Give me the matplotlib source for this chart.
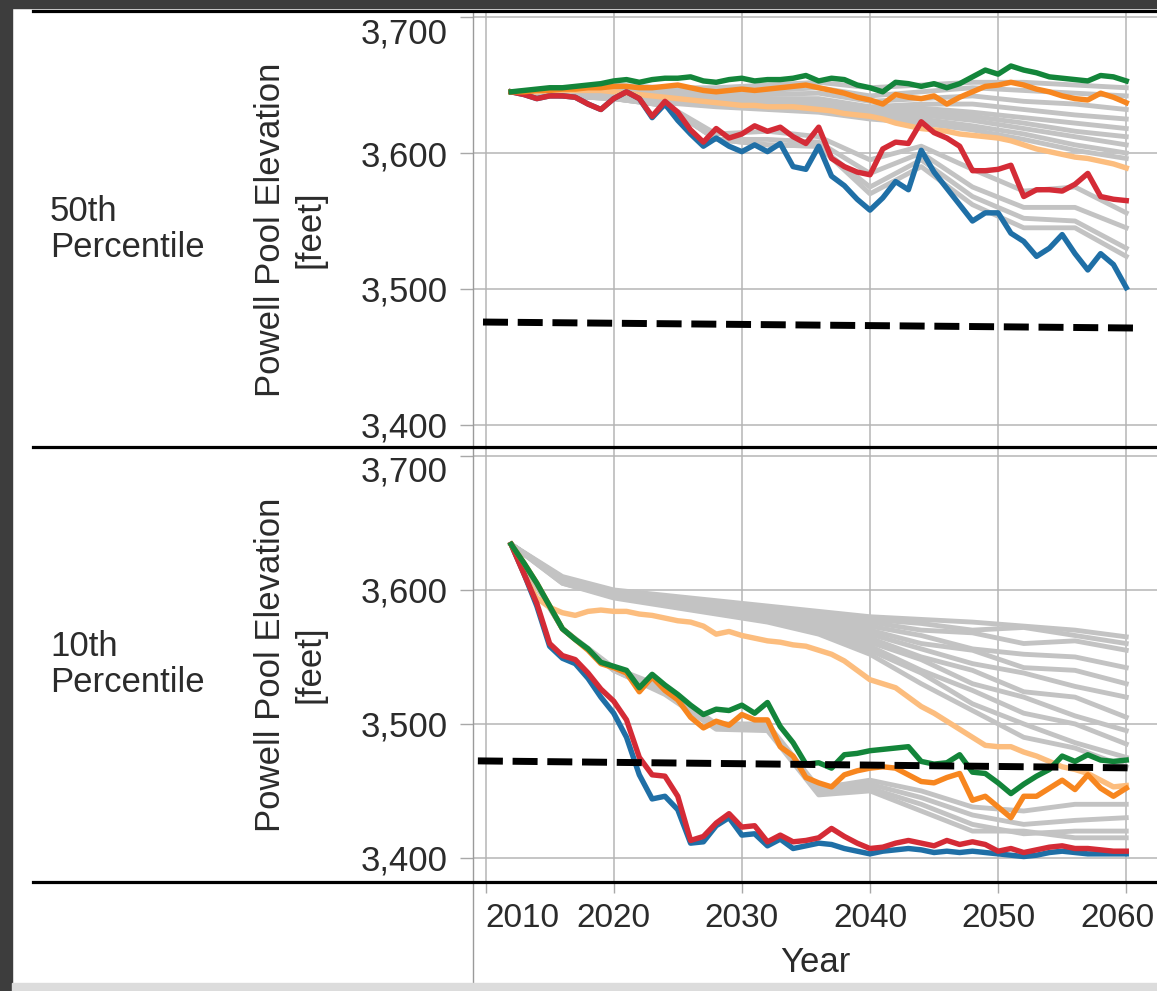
import matplotlib
matplotlib.use("Agg")
import matplotlib.pyplot as plt
from matplotlib import font_manager
from matplotlib.lines import Line2D
from matplotlib.patches import Rectangle
from matplotlib.transforms import ScaledTranslation

# years of the simulated traces
years = list(range(2012, 2061))
# grey traces are read every 4 years
grey_years = list(range(2012, 2061, 4))

# ---------------- 50th percentile panel ----------------
p50_green = [3645, 3646, 3647, 3648, 3648, 3649, 3650, 3651, 3653, 3654, 3652, 3654, 3655,
             3655, 3656, 3653, 3652, 3654, 3655, 3653, 3654, 3654, 3655, 3657, 3653, 3655,
             3654, 3650, 3648, 3645, 3652, 3651, 3649, 3651, 3648, 3651, 3656, 3661, 3658,
             3664, 3661, 3659, 3656, 3655, 3654, 3653, 3657, 3656, 3653]
p50_orange = [3645, 3645, 3646, 3646, 3647, 3647, 3648, 3648, 3649, 3649, 3648, 3648, 3649,
              3650, 3648, 3646, 3645, 3646, 3647, 3646, 3647, 3648, 3649, 3650, 3648, 3646,
              3644, 3641, 3639, 3636, 3643, 3641, 3640, 3642, 3636, 3641, 3645, 3649, 3650,
              3652, 3650, 3647, 3645, 3642, 3640, 3639, 3644, 3641, 3637]
p50_light = [3645, 3645, 3645, 3646, 3646, 3646, 3646, 3646, 3645, 3644, 3643, 3642, 3641,
             3640, 3639, 3638, 3637, 3636, 3635, 3635, 3634, 3634, 3634, 3633, 3632, 3631,
             3629, 3628, 3627, 3625, 3622, 3620, 3618, 3617, 3616, 3614, 3613, 3612, 3611,
             3609, 3606, 3603, 3601, 3599, 3597, 3596, 3594, 3592, 3589]
p50_red = [3645, 3643, 3640, 3642, 3642, 3641, 3636, 3632, 3640, 3645, 3640, 3627, 3638,
           3630, 3617, 3608, 3618, 3611, 3614, 3620, 3616, 3619, 3612, 3607, 3619, 3596,
           3590, 3586, 3584, 3603, 3608, 3607, 3623, 3615, 3611, 3605, 3587, 3587, 3588,
           3591, 3568, 3573, 3573, 3572, 3577, 3585, 3568, 3566, 3565]
p50_blue = [3645, 3643, 3640, 3642, 3642, 3641, 3636, 3632, 3640, 3645, 3640, 3626, 3636,
            3624, 3614, 3605, 3611, 3605, 3601, 3606, 3601, 3607, 3590, 3588, 3605, 3583,
            3576, 3566, 3558, 3567, 3579, 3573, 3602, 3586, 3574, 3562, 3550, 3556, 3556,
            3541, 3535, 3524, 3530, 3540, 3526, 3514, 3526, 3518, 3501]
p50_grey = [
    [3645, 3648, 3650, 3648, 3648, 3650, 3652, 3648, 3650, 3652, 3652, 3650, 3648],
    [3645, 3647, 3648, 3646, 3645, 3646, 3648, 3642, 3645, 3648, 3646, 3644, 3642],
    [3645, 3647, 3647, 3644, 3642, 3643, 3644, 3638, 3640, 3642, 3638, 3636, 3632],
    [3645, 3646, 3646, 3642, 3640, 3640, 3640, 3634, 3636, 3636, 3632, 3628, 3625],
    [3645, 3646, 3645, 3641, 3638, 3638, 3637, 3631, 3633, 3630, 3626, 3622, 3618],
    [3645, 3646, 3644, 3640, 3637, 3636, 3635, 3630, 3630, 3627, 3622, 3616, 3612],
    [3645, 3645, 3644, 3639, 3636, 3635, 3633, 3628, 3628, 3624, 3618, 3612, 3606],
    [3645, 3645, 3643, 3638, 3635, 3634, 3632, 3626, 3625, 3620, 3614, 3606, 3600],
    [3645, 3645, 3643, 3637, 3634, 3632, 3630, 3625, 3622, 3617, 3610, 3602, 3596],
    [3645, 3642, 3640, 3636, 3614, 3616, 3612, 3595, 3605, 3588, 3572, 3575, 3556],
    [3645, 3642, 3640, 3635, 3610, 3610, 3608, 3585, 3600, 3575, 3560, 3560, 3545],
    [3645, 3642, 3640, 3635, 3610, 3606, 3605, 3575, 3595, 3568, 3552, 3550, 3530],
    [3645, 3642, 3640, 3635, 3610, 3606, 3605, 3570, 3590, 3562, 3545, 3545, 3524],
]
p50_thresh_years = [2009.8, 2060.6]
p50_thresh = [3475.7, 3471.3]

# ---------------- 10th percentile panel ----------------
p10_green = [3634, 3620, 3605, 3588, 3571, 3563, 3556, 3546, 3543, 3540, 3527, 3537, 3529,
             3522, 3514, 3507, 3511, 3510, 3514, 3508, 3516, 3498, 3486, 3470, 3471, 3467,
             3477, 3478, 3480, 3481, 3482, 3483, 3472, 3470, 3471, 3477, 3464, 3463, 3456,
             3448, 3455, 3461, 3466, 3476, 3472, 3477, 3473, 3472, 3473]
p10_orange = [3634, 3620, 3605, 3588, 3571, 3563, 3555, 3545, 3542, 3538, 3524, 3535, 3525,
              3518, 3505, 3497, 3502, 3499, 3507, 3503, 3503, 3483, 3476, 3460, 3456, 3453,
              3462, 3465, 3467, 3468, 3467, 3462, 3457, 3456, 3460, 3463, 3443, 3446, 3438,
              3430, 3446, 3446, 3452, 3458, 3451, 3462, 3452, 3446, 3452]
p10_light = [3634, 3612, 3594, 3587, 3583, 3581, 3584, 3585, 3584, 3584, 3582, 3581, 3579,
             3577, 3576, 3573, 3567, 3569, 3566, 3564, 3562, 3561, 3559, 3558, 3555, 3552,
             3547, 3540, 3533, 3530, 3527, 3520, 3513, 3508, 3502, 3496, 3490, 3484, 3483,
             3483, 3479, 3476, 3472, 3468, 3466, 3463, 3458, 3453, 3454]
p10_red = [3634, 3612, 3590, 3560, 3551, 3548, 3538, 3526, 3517, 3503, 3475, 3462, 3461,
           3446, 3413, 3416, 3426, 3433, 3423, 3424, 3412, 3417, 3412, 3413, 3415, 3422,
           3416, 3411, 3407, 3408, 3411, 3413, 3411, 3409, 3413, 3410, 3412, 3410, 3405,
           3407, 3404, 3406, 3408, 3409, 3407, 3407, 3406, 3405, 3405]
p10_blue = [3634, 3612, 3588, 3558, 3549, 3545, 3534, 3520, 3508, 3490, 3462, 3444, 3446,
            3436, 3411, 3412, 3424, 3430, 3417, 3418, 3409, 3414, 3407, 3409, 3411, 3410,
            3407, 3405, 3403, 3405, 3406, 3407, 3406, 3404, 3405, 3404, 3405, 3404, 3403,
            3402, 3401, 3402, 3404, 3405, 3404, 3403, 3403, 3403, 3403]
p10_grey = [
    [3634, 3610, 3600, 3596, 3592, 3588, 3584, 3580, 3578, 3576, 3573, 3570, 3565],
    [3634, 3609, 3599, 3594, 3590, 3586, 3582, 3578, 3575, 3570, 3572, 3566, 3560],
    [3634, 3608, 3598, 3593, 3589, 3584, 3580, 3576, 3570, 3568, 3560, 3562, 3555],
    [3634, 3608, 3598, 3592, 3588, 3583, 3578, 3573, 3566, 3556, 3552, 3550, 3542],
    [3634, 3607, 3597, 3591, 3587, 3582, 3577, 3570, 3560, 3555, 3542, 3540, 3530],
    [3634, 3607, 3597, 3591, 3586, 3581, 3575, 3567, 3556, 3545, 3538, 3528, 3520],
    [3634, 3606, 3596, 3590, 3585, 3580, 3573, 3564, 3550, 3540, 3524, 3520, 3505],
    [3634, 3606, 3596, 3590, 3585, 3579, 3572, 3561, 3548, 3530, 3520, 3506, 3495],
    [3634, 3606, 3595, 3589, 3584, 3578, 3570, 3558, 3540, 3525, 3508, 3500, 3485],
    [3634, 3605, 3595, 3589, 3583, 3577, 3569, 3555, 3538, 3515, 3500, 3486, 3475],
    [3634, 3605, 3594, 3588, 3582, 3576, 3567, 3552, 3530, 3510, 3490, 3482, 3468],
    [3634, 3571, 3542, 3527, 3500, 3500, 3452, 3458, 3450, 3438, 3435, 3440, 3440],
    [3634, 3571, 3541, 3525, 3498, 3498, 3450, 3455, 3445, 3432, 3425, 3428, 3430],
    [3634, 3571, 3540, 3523, 3497, 3497, 3448, 3452, 3440, 3425, 3418, 3420, 3420],
    [3634, 3571, 3540, 3522, 3496, 3495, 3447, 3450, 3435, 3420, 3420, 3415, 3415],
]
p10_thresh_years = [2009.4, 2060.1]
p10_thresh = [3472.4, 3467.2]

row_labels = ["50th\nPercentile", "10th\nPercentile"]
y_ticks = [3400, 3500, 3600, 3700]
y_ticklabels = ["3,400", "3,500", "3,600", "3,700"]
x_ticks = [2010, 2020, 2030, 2040, 2050, 2060]

# colours
c_blue = "#1f6fa6"
c_red = "#d42b36"
c_green = "#13853a"
c_orange = "#f7861f"
c_light = "#fcbd7e"
c_grey = "#c3c3c3"
c_text = "#2b2b2b"

names = {f.name for f in font_manager.fontManager.ttflist}
base_font = "Liberation Sans" if "Liberation Sans" in names else "DejaVu Sans"
plt.rcParams["font.family"] = [base_font, "DejaVu Sans"]

W, H = 1157, 991
fig = plt.figure(figsize=(W / 100, H / 100), dpi=100)
fig.patch.set_facecolor("white")


def fx(px):
    return px / W


def fy(py):
    return 1 - py / H


panels = [
    dict(top=12, bottom=447, ylim=(3383.8, 3703.7), green=p50_green, orange=p50_orange,
         light=p50_light, red=p50_red, blue=p50_blue, grey=p50_grey,
         ty=p50_thresh_years, tv=p50_thresh, label=row_labels[0]),
    dict(top=447, bottom=882, ylim=(3382, 3706.7), green=p10_green, orange=p10_orange,
         light=p10_light, red=p10_red, blue=p10_blue, grey=p10_grey,
         ty=p10_thresh_years, tv=p10_thresh, label=row_labels[1]),
]

lw = 3.9
for i, p in enumerate(panels):
    ax = fig.add_axes([fx(473), fy(p["bottom"]), fx(W - 473), (p["bottom"] - p["top"]) / H])
    ax.set_xlim(2009.02, 2062.4)
    ax.set_ylim(*p["ylim"])
    for s in ax.spines.values():
        s.set_visible(False)
    ax.grid(True, color="#b5b5b5", lw=1.1)
    ax.set_axisbelow(True)

    for g in p["grey"]:
        ax.plot(grey_years, g, color=c_grey, lw=lw - 0.4, zorder=2)
    ax.plot(years, p["light"], color=c_light, lw=lw, zorder=3)
    ax.plot(years, p["blue"], color=c_blue, lw=lw, zorder=4)
    ax.plot(years, p["red"], color=c_red, lw=lw, zorder=5)
    ax.plot(years, p["orange"], color=c_orange, lw=lw, zorder=6)
    ax.plot(years, p["green"], color=c_green, lw=lw, zorder=7)
    ax.plot(p["ty"], p["tv"], color="black", lw=5, dashes=(3.6, 1.4), zorder=8)

    ax.set_yticks(y_ticks, labels=y_ticklabels)
    ax.tick_params(axis="y", length=9.5, width=1, color="#a8a8a8", pad=8.5,
                   labelsize=25, labelcolor=c_text)
    ax.get_yticklabels()[-1].set_va("top")
    ax.set_xticks(x_ticks)
    if i == 0:
        ax.tick_params(axis="x", length=0, labelbottom=False)
    else:
        ax.set_xticklabels([str(x) for x in x_ticks])
        ax.tick_params(axis="x", length=8, width=1, color="#a8a8a8", pad=7,
                       labelsize=24, labelcolor=c_text)
        xl = ax.get_xticklabels()
        xl[0].set_ha("left")
        xl[-1].set_ha("right")
        xl[-1].set_transform(xl[-1].get_transform()
                             + ScaledTranslation(28 / 100, 0, fig.dpi_scale_trans))

    mid = (p["top"] + p["bottom"]) / 2
    fig.text(fx(50), fy(mid), p["label"], ha="left", va="center", fontsize=25,
             color=c_text, linespacing=1.1)
    fig.text(fx(290), fy(mid), "Powell Pool Elevation\n[feet]", rotation=90,
             ha="center", va="center", multialignment="center", fontsize=25,
             color=c_text, linespacing=1.25)

fig.text(fx(815), fy(962), "Year", ha="center", va="center", fontsize=25, color=c_text)

# frame lines of the table
fig.add_artist(Line2D([fx(473), fx(473)], [fy(12), fy(985)], color="#9a9a9a", lw=1))
for yy in (11, 447, 882):
    fig.add_artist(Line2D([fx(33), 1], [fy(yy), fy(yy)], color="black", lw=2.3))

# dark screen border and scrollbar
fig.add_artist(Rectangle((0, 0), fx(12), 1, color="#3d3d3d", zorder=20))
fig.add_artist(Rectangle((0, fy(8)), 1, 8 / H, color="#3d3d3d", zorder=20))
fig.add_artist(Rectangle((fx(12), 0), 1, (991 - 983) / H, color="#dcdcdc", zorder=20))

fig.savefig("out.png", dpi=100)
